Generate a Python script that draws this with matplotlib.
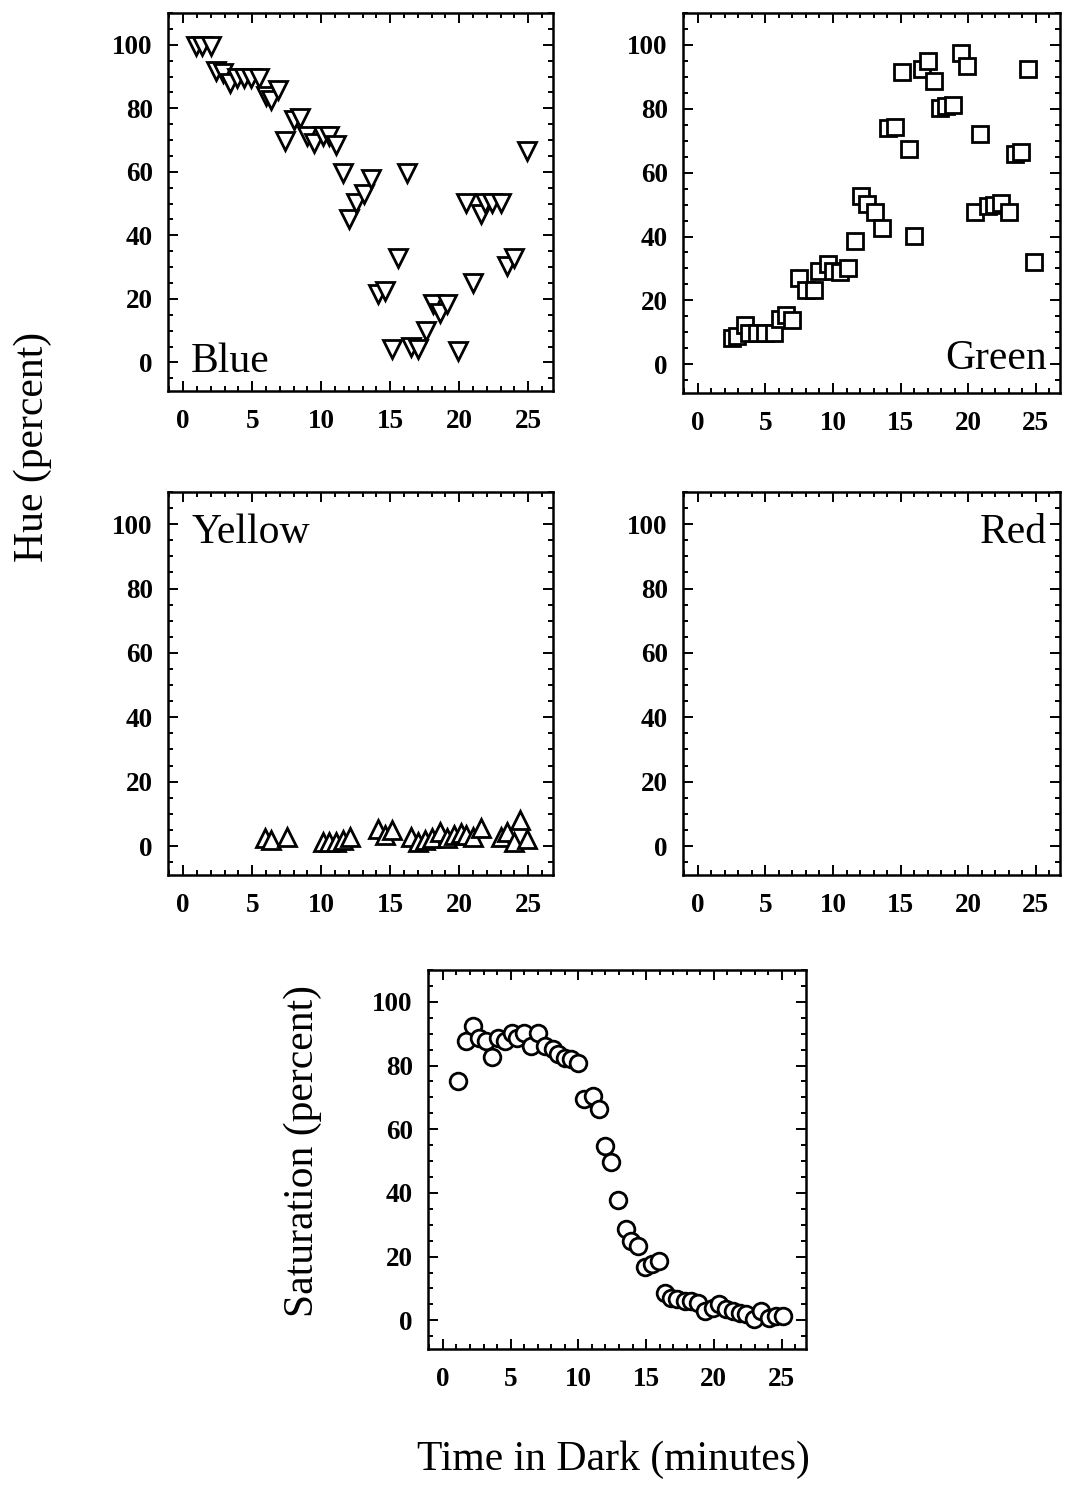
import matplotlib
matplotlib.use("Agg")
import matplotlib.pyplot as plt
from matplotlib.ticker import MultipleLocator

plt.rcParams['font.family'] = ['Liberation Serif', 'DejaVu Serif']

W, H = 1065, 1505

# ---------------- data ----------------
blue_x = [0.9, 1.4, 2.0, 2.4, 2.9, 3.4, 3.9, 4.4, 4.9, 5.5, 6.0, 6.4, 6.9,
          7.4, 8.0, 8.5, 9.0, 9.5, 10.1, 10.6, 11.1, 11.55, 12.0, 12.5, 13.1,
          13.6, 14.1, 14.6, 15.1, 15.6, 16.2, 16.5, 17.0, 17.6, 18.1, 18.6,
          19.1, 19.9, 20.5, 21.0, 21.6, 21.9, 22.4, 23.0, 23.5, 24.0, 24.9]
blue_y = [99.5, 99.5, 99.5, 91.6, 91.2, 88.0, 89.5, 89.5, 89.5, 89.5, 83.8,
          82.7, 85.9, 69.6, 76.4, 77.0, 71.2, 69.1, 71.2, 71.2, 68.6, 59.7,
          45.0, 50.3, 52.9, 57.6, 21.5, 22.5, 4.2, 33.0, 59.7, 4.7, 4.2, 9.9,
          18.3, 15.7, 18.3, 3.7, 50.3, 25.1, 46.6, 50.3, 50.3, 50.3, 30.4,
          33.0, 66.5]

green_x = [2.5, 2.9, 3.5, 3.8, 4.4, 5.0, 5.6, 6.05, 6.5, 7.0, 7.5, 8.0, 8.6,
           9.0, 9.6, 10.0, 10.5, 11.1, 11.6, 12.1, 12.5, 13.1, 13.6, 14.1,
           14.6, 15.1, 15.6, 16.0, 16.6, 17.0, 17.5, 17.9, 18.4, 18.9, 19.5,
           19.95, 20.5, 20.9, 21.5, 21.9, 22.4, 23.0, 23.5, 23.9, 24.4, 24.9]
green_y = [8.2, 8.9, 12.3, 9.9, 9.9, 9.9, 9.9, 14.1, 15.5, 13.9, 27.0, 23.3,
           23.1, 29.1, 31.5, 29.1, 28.8, 30.1, 38.7, 52.8, 50.3, 47.7, 42.7,
           74.1, 74.4, 91.6, 67.3, 40.1, 92.4, 95.0, 88.7, 80.1, 80.9, 81.1,
           97.6, 93.4, 47.6, 72.0, 49.5, 50.0, 50.5, 47.6, 65.9, 66.4, 92.6,
           31.9]

yellow_x = [5.9, 6.4, 7.5, 10.1, 10.6, 11.1, 11.6, 12.1, 14.1, 14.6, 15.1,
            16.5, 17.0, 17.5, 18.0, 18.6, 19.1, 19.6, 20.1, 20.5, 21.0, 21.6,
            23.0, 23.5, 23.95, 24.4, 24.9]
yellow_y = [2.4, 1.9, 2.7, 1.4, 1.1, 1.4, 1.9, 2.7, 5.3, 3.5, 5.1, 2.7, 1.4,
            1.9, 2.4, 4.5, 2.4, 3.5, 4.0, 3.5, 2.9, 5.6, 2.7, 4.5, 1.4, 8.2,
            2.1]

red_x = []
red_y = []

sat_x = [1.1, 1.7, 2.2, 2.7, 3.2, 3.6, 4.1, 4.6, 5.1, 5.5, 6.0, 6.5, 7.0,
         7.5, 8.1, 8.5, 9.0, 9.45, 9.95, 10.4, 11.05, 11.5, 12.0, 12.4, 12.9,
         13.5, 13.9, 14.4, 14.9, 15.4, 15.96, 16.4, 16.8, 17.3, 17.9, 18.3,
         18.8, 19.35, 19.9, 20.4, 20.9, 21.4, 21.9, 22.35, 22.95, 23.5, 24.1,
         24.6, 25.1]
sat_y = [75.2, 87.7, 92.5, 88.5, 87.7, 82.7, 88.8, 87.7, 90.2, 88.8, 90.2,
         86.0, 90.2, 86.0, 85.1, 83.6, 82.5, 82.0, 80.9, 69.6, 70.5, 66.3,
         54.6, 49.7, 37.8, 28.8, 24.9, 23.4, 16.9, 17.6, 18.6, 8.7, 7.1, 6.6,
         6.1, 6.1, 5.5, 2.9, 4.0, 5.0, 3.5, 2.9, 2.4, 1.9, 0.3, 2.9, 0.8, 1.4,
         1.4]

x_ticks = [0, 5, 10, 15, 20, 25]
y_ticks = [0, 20, 40, 60, 80, 100]

# ---------------- figure ----------------
fig = plt.figure(figsize=(W / 100, H / 100), dpi=100)


def add_axes(l, t, r, b):
    return fig.add_axes([l / W, 1 - b / H, (r - l) / W, (b - t) / H])


def style(ax):
    ax.set_xlim(-1.1, 26.8)
    ax.set_ylim(-9, 110)
    ax.set_xticks(x_ticks)
    ax.set_yticks(y_ticks)
    ax.xaxis.set_minor_locator(MultipleLocator(1))
    ax.yaxis.set_minor_locator(MultipleLocator(5))
    ax.tick_params(which='both', direction='in', top=True, right=True,
                   width=1.4, color='black')
    ax.tick_params(which='major', length=7.5, labelsize=19.5)
    ax.tick_params(which='minor', length=3.5)
    ax.tick_params(axis='x', which='major', pad=13)
    ax.tick_params(axis='y', which='major', pad=11)
    for lab in ax.get_xticklabels() + ax.get_yticklabels():
        lab.set_fontweight('bold')
    for s in ax.spines.values():
        s.set_linewidth(1.8)


mk = dict(linestyle='none', markerfacecolor='white', markeredgecolor='black',
          markeredgewidth=2.0)

ax_b = add_axes(168, 13, 553, 391)
style(ax_b)
ax_b.plot(blue_x, blue_y, marker='v', markersize=12.5, **mk)
ax_b.text(0.06, 0.05, 'Blue', transform=ax_b.transAxes, fontsize=30,
          ha='left', va='baseline')

ax_g = add_axes(683, 13, 1060, 393)
style(ax_g)
ax_g.plot(green_x, green_y, marker='s', markersize=12, **mk)
ax_g.text(0.965, 0.063, 'Green', transform=ax_g.transAxes, fontsize=30,
          ha='right', va='baseline')

ax_y = add_axes(168, 492, 553, 875)
style(ax_y)
ax_y.plot(yellow_x, yellow_y, marker='^', markersize=12.5, **mk)
ax_y.text(0.06, 0.867, 'Yellow', transform=ax_y.transAxes, fontsize=30,
          ha='left', va='baseline')

ax_r = add_axes(683, 492, 1060, 875)
style(ax_r)
ax_r.plot(red_x, red_y, marker='D', markersize=12, **mk)
ax_r.text(0.965, 0.867, 'Red', transform=ax_r.transAxes, fontsize=30,
          ha='right', va='baseline')

ax_s = add_axes(428, 970, 806, 1349)
style(ax_s)
ax_s.plot(sat_x, sat_y, marker='o', markersize=12, **mk)

fig.text(33 / W, 1 - 447 / H, 'Hue (percent)', rotation=90, fontsize=30,
         ha='center', va='center')
fig.text(303 / W, 1 - 1151 / H, 'Saturation (percent)', rotation=90,
         fontsize=30, ha='center', va='center')
fig.text(613 / W, 1 - 1460 / H, 'Time in Dark (minutes)', fontsize=30,
         ha='center', va='center')

fig.savefig('out.png', dpi=100)
